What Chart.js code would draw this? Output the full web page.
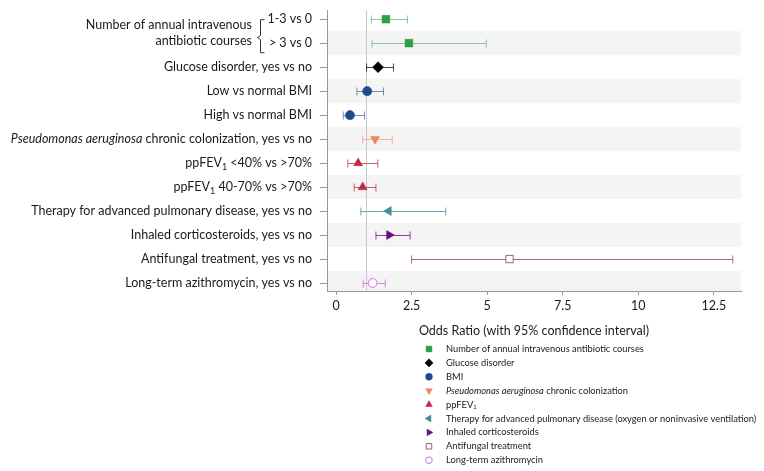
<!DOCTYPE html>
<html>
<head>
<meta charset="utf-8">
<script src="https://cdn.jsdelivr.net/npm/chart.js@4/dist/chart.umd.min.js"></script>
<style>
  html, body { margin: 0; padding: 0; background: #fff; }
  canvas { display: block; }
</style>
</head>
<body>
<canvas id="forest" width="764" height="471"></canvas>
<script>
// rows from top to bottom; *...* = italic, _1 = subscript
const rowLabels = [
    "1-3 vs 0",
    "> 3 vs 0",
    "Glucose disorder, yes vs no",
    "Low vs normal BMI",
    "High vs normal BMI",
    "*Pseudomonas aeruginosa* chronic colonization, yes vs no",
    "ppFEV_1 <40% vs >70%",
    "ppFEV_1 40-70% vs >70%",
    "Therapy for advanced pulmonary disease, yes vs no",
    "Inhaled corticosteroids, yes vs no",
    "Antifungal treatment, yes vs no",
    "Long-term azithromycin, yes vs no"
];
const groupLabel = ["Number of annual intravenous", "antibiotic courses"];

const oddsRatio = [1.65, 2.41, 1.39, 1.03, 0.46, 1.29, 0.73, 0.88, 1.74, 1.76, 5.74, 1.21];
const ciLow     = [1.17, 1.19, 1.01, 0.69, 0.24, 0.88, 0.39, 0.60, 0.82, 1.32, 2.50, 0.90];
const ciHigh    = [2.36, 4.97, 1.90, 1.57, 0.94, 1.86, 1.38, 1.32, 3.63, 2.45, 13.13, 1.63];
const rowGroup  = [0, 0, 1, 2, 2, 3, 4, 4, 5, 6, 7, 8];

const legendLabels = [
    "Number of annual intravenous antibiotic courses",
    "Glucose disorder",
    "BMI",
    "*Pseudomonas aeruginosa* chronic colonization",
    "ppFEV_1",
    "Therapy for advanced pulmonary disease (oxygen or noninvasive ventilation)",
    "Inhaled corticosteroids",
    "Antifungal treatment",
    "Long-term azithromycin"
];

const xTicks = [0, 2.5, 5, 7.5, 10, 12.5];
const refLine = 1;

// styles per group
const groupColor = ["#2f9e44", "#000000", "#1f4a8a", "#f0845a", "#c0284a", "#3f8c9a", "#6b0f7a", "#a0606a", "#d070d8"];
const groupBar   = ["rgba(47,158,68,0.55)", "rgba(0,0,0,0.7)", "rgba(31,74,138,0.6)", "rgba(240,132,90,0.6)",
                    "rgba(192,40,74,0.75)", "rgba(63,140,154,0.75)", "rgba(107,15,122,0.75)", "rgba(150,85,92,0.85)", "rgba(208,112,216,0.85)"];
const groupShape = ["rect", "rectRot", "circle", "triangle", "triangle", "triangle", "triangle", "rect", "circle"];
const groupRot   = [0, 0, 0, 180, 0, -90, 90, 0, 0];
const groupOpen  = [false, false, false, false, false, false, false, true, true];
const groupSize  = [5.5, 5.5, 4.6, 5.2, 5.2, 5.2, 5.2, 5.2, 4.4];

const FONT = "Lato, 'Open Sans', sans-serif";

const datasets = legendLabels.map(function (lbl, g) {
    const pts = [];
    rowGroup.forEach(function (rg, i) {
        if (rg === g) pts.push({ x: oddsRatio[i], y: i, lo: ciLow[i], hi: ciHigh[i] });
    });
    return {
        label: lbl,
        data: pts,
        pointStyle: groupShape[g],
        rotation: groupRot[g],
        radius: groupSize[g],
        backgroundColor: groupOpen[g] ? "#ffffff" : groupColor[g],
        borderColor: groupColor[g],
        borderWidth: groupOpen[g] ? 1 : 0.5,
        errColor: groupBar[g]
    };
});

// draw a string with *italic* and _sub markup
function parseRich(s) {
    const parts = [];
    let italic = false, buf = "";
    for (let k = 0; k < s.length; k++) {
        const c = s[k];
        if (c === "*") {
            if (buf) parts.push({ t: buf, i: italic });
            buf = ""; italic = !italic;
        } else if (c === "_") {
            if (buf) parts.push({ t: buf, i: italic });
            buf = "";
            parts.push({ t: s[k + 1], i: italic, sub: true });
            k++;
        } else {
            buf += c;
        }
    }
    if (buf) parts.push({ t: buf, i: italic });
    return parts;
}

function fontFor(p, size) {
    const sz = p.sub ? Math.round(size * 0.68) : size;
    return (p.i ? "italic " : "") + sz + "px " + FONT;
}

function drawRich(ctx, s, x, y, size, align) {
    const parts = parseRich(s);
    let w = 0;
    parts.forEach(function (p) { ctx.font = fontFor(p, size); w += ctx.measureText(p.t).width; });
    let cx = align === "right" ? x - w : x;
    ctx.textBaseline = "middle";
    ctx.textAlign = "left";
    parts.forEach(function (p) {
        ctx.font = fontFor(p, size);
        ctx.fillText(p.t, cx, p.sub ? y + size * 0.3 : y);
        cx += ctx.measureText(p.t).width;
    });
}

const forestPlugin = {
    id: "forest",
    beforeDraw: function (chart) {
        const ctx = chart.ctx, area = chart.chartArea, ys = chart.scales.y;
        ctx.save();
        ctx.fillStyle = "#f4f4f4";
        rowLabels.forEach(function (_, i) {
            if (i % 2 === 1) {
                const top = Math.max(area.top, ys.getPixelForValue(i - 0.5));
                const bot = Math.min(area.bottom, ys.getPixelForValue(i + 0.5));
                ctx.fillRect(area.left, top, area.right - area.left, bot - top);
            }
        });
        ctx.restore();
    },
    beforeDatasetsDraw: function (chart) {
        const ctx = chart.ctx, area = chart.chartArea, xs = chart.scales.x, ys = chart.scales.y;
        ctx.save();
        // reference line
        const rx = Math.round(xs.getPixelForValue(refLine)) + 0.5;
        ctx.strokeStyle = "#c8c8c8";
        ctx.lineWidth = 1;
        ctx.beginPath();
        ctx.moveTo(rx, area.top);
        ctx.lineTo(rx, area.bottom);
        ctx.stroke();
        // confidence intervals
        chart.data.datasets.forEach(function (ds) {
            ctx.strokeStyle = ds.errColor;
            ctx.lineWidth = 1;
            ds.data.forEach(function (p) {
                const y = Math.round(ys.getPixelForValue(p.y)) + 0.5;
                const x0 = xs.getPixelForValue(p.lo), x1 = xs.getPixelForValue(p.hi);
                ctx.beginPath();
                ctx.moveTo(x0, y); ctx.lineTo(x1, y);
                ctx.moveTo(x0, y - 4); ctx.lineTo(x0, y + 4);
                ctx.moveTo(x1, y - 4); ctx.lineTo(x1, y + 4);
                ctx.stroke();
            });
        });
        ctx.restore();
    },
    afterDraw: function (chart) {
        const ctx = chart.ctx, ys = chart.scales.y;
        ctx.save();
        ctx.fillStyle = "#1a1a1a";
        // row labels
        const lx = ys.right - 15;
        rowLabels.forEach(function (lbl, i) {
            drawRich(ctx, lbl, lx, ys.getPixelForValue(i), 12.5, "right");
        });
        // group label with bracket
        const y0 = ys.getPixelForValue(0), y1 = ys.getPixelForValue(1);
        drawRich(ctx, groupLabel[0], 252, y0 + 6, 12.5, "right");
        drawRich(ctx, groupLabel[1], 252, y1 - 2, 12.5, "right");
        const bx = 260.5, bt = y0 + 0.5, bb = y1 + 9.5, bm = Math.round((bt + bb) / 2) + 1.5;
        ctx.strokeStyle = "#333";
        ctx.lineWidth = 1;
        ctx.beginPath();
        ctx.moveTo(bx + 4, bt); ctx.lineTo(bx, bt); ctx.lineTo(bx, bm - 2);
        ctx.lineTo(bx - 3, bm); ctx.lineTo(bx, bm + 2); ctx.lineTo(bx, bb); ctx.lineTo(bx + 4, bb);
        ctx.stroke();
        // legend
        const legX = 429, legT = 349, legStep = 13.9;
        chart.data.datasets.forEach(function (ds, g) {
            const y = legT + g * legStep;
            const opts = {
                pointStyle: ds.pointStyle,
                rotation: ds.rotation,
                radius: ds.radius * 0.75,
                borderWidth: ds.borderWidth
            };
            ctx.fillStyle = ds.backgroundColor;
            ctx.strokeStyle = ds.borderColor;
            ctx.lineWidth = ds.borderWidth;
            Chart.helpers.drawPoint(ctx, opts, legX, y);
            ctx.fillStyle = "#1a1a1a";
            drawRich(ctx, ds.label, 446, y, 9.3, "left");
        });
        ctx.restore();
    }
};

new Chart(document.getElementById("forest"), {
    type: "scatter",
    data: { datasets: datasets },
    options: {
        responsive: false,
        animation: false,
        devicePixelRatio: 1,
        layout: { padding: { top: 8, right: 23, bottom: 133, left: 0 } },
        plugins: {
            legend: { display: false },
            tooltip: { enabled: false }
        },
        scales: {
            x: {
                type: "linear",
                min: -0.3,
                max: 13.4,
                afterBuildTicks: function (s) { s.ticks = xTicks.map(function (v) { return { value: v }; }); },
                ticks: {
                    color: "#1a1a1a",
                    font: { family: FONT, size: 12.5 },
                    padding: 3,
                    maxRotation: 0,
                    callback: function (v) { return String(v); }
                },
                grid: { display: true, drawOnChartArea: false, tickLength: 4, color: "#999" },
                border: { display: true, color: "#999" },
                title: {
                    display: true,
                    text: "Odds Ratio (with 95% confidence interval)",
                    color: "#1a1a1a",
                    font: { family: FONT, size: 12.5 },
                    padding: { top: 7, bottom: 0 }
                }
            },
            y: {
                type: "linear",
                reverse: true,
                min: -0.375,
                max: 11.333,
                afterBuildTicks: function (s) { s.ticks = rowLabels.map(function (_, i) { return { value: i }; }); },
                afterFit: function (s) { s.width = 327; },
                ticks: { callback: function () { return ""; } },
                grid: { display: true, drawOnChartArea: false, tickLength: 7, color: "#999" },
                border: { display: true, color: "#999" }
            }
        }
    },
    plugins: [forestPlugin]
});
</script>
</body>
</html>
